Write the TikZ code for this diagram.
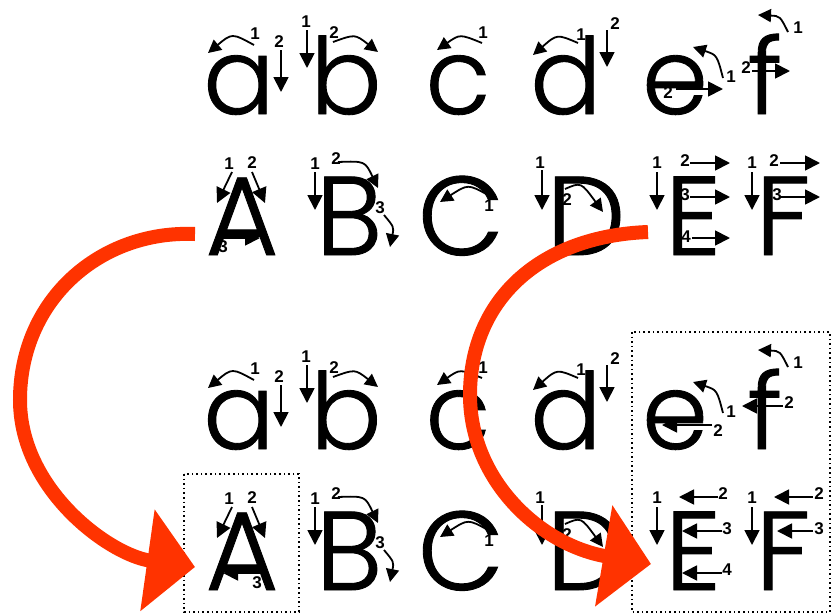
\documentclass[tikz,border=0pt]{standalone}
\usepackage{fontspec}
\setmainfont{Liberation Sans}
\newfontfamily\letterfont{Poppins}[UprightFont=* Light, FakeBold=0.8]
\usetikzlibrary{arrows.meta}
\definecolor{redarr}{RGB}{255,51,0}
\tikzset{
  lc/.style={font=\letterfont\fontsize{106}{106}\selectfont, inner sep=0pt, anchor=base},
  uc/.style={font=\letterfont\fontsize{112}{112}\selectfont, inner sep=0pt, anchor=base},
  num/.style={font=\bfseries\fontsize{17}{17}\selectfont, inner sep=0pt},
  sa/.style={line width=1.8pt, -{Triangle[length=15pt,width=15pt]}},
  ca/.style={line width=1.8pt, -{Triangle[length=13pt,width=13pt]}},
  bigarrow/.style={line width=14pt, draw=redarr, -{Triangle[length=48pt,width=100pt]}},
  dotbox/.style={line width=1.6pt, dash pattern=on 1.6pt off 3pt},
}
\newcommand\commonpart{%
  \node[lc] (a) at (239,114) {a};
  \node[lc] (b) at (346,114) {b};
  \node[lc] (c) at (458,114) {c};
  \node[lc] (d) at (566,114) {d};
  \node[lc] (e) at (675,114) {e};
  \node[lc] (f) at (765,114) {f};
  \node[uc] (A) at (242,255) {A};
  \node[uc] (B) at (349,255) {B};
  \node[uc] (C) at (461,255) {C};
  \node[uc] (D) at (586,255) {D};
  \node[uc] (E) at (693,255) {E};
  \node[uc] (F) at (783,255) {F};
  % curved arrows
  \draw[ca] (254,45) .. controls (232,33) .. (208,53);
  \node[num] (la1) at (255,34) {1};
  \draw[ca] (333,42) .. controls (355,34) .. (378,52);
  \node[num] (lb2) at (334,33) {2};
  \draw[ca] (482,43) .. controls (460,34) .. (437,50);
  \node[num] (lc1) at (483,33) {1};
  \draw[ca] (578,43) .. controls (557,34) .. (533,55);
  \node[num] (ld1) at (581,35) {1};
  \draw[ca] (723,78) .. controls (717,55) .. (693,47);
  \node[num] (le1) at (731,77) {1};
  \draw[ca] (788,32) .. controls (780,16) .. (758,15);
  \node[num] (lf1) at (798,28) {1};
  \draw[ca] (338,162) .. controls (365,161) .. (378,188);
  \node[num] (lB2) at (336,159) {2};
  \draw[ca] (384,215) .. controls (394,227) .. (390,247);
  \node[num] (lB3) at (380,208) {3};
  \draw[ca] (488,195) .. controls (468,184) .. (440,202);
  \node[num] (lC1) at (489,206) {1};
  \draw[ca] (565,189) .. controls (581,182) .. (603,212);
  \node[num] (lD2) at (567,200) {2};
  % straight arrows
  \draw[sa] (281,50) -- (281,92);
  \node[num] (la2) at (279,42) {2};
  \draw[sa] (307,30) -- (307,68);
  \node[num] (lb1) at (306,22) {1};
  \draw[sa] (607,30) -- (607,67);
  \node[num] (ld2) at (615,24) {2};
  \draw[sa] (232,172) -- (217,203);
  \node[num] (lA1) at (229,164) {1};
  \draw[sa] (252,172) -- (265,203);
  \node[num] (lA2) at (252,163) {2};
  \draw[sa] (315,172) -- (315,210);
  \node[num] (lB1) at (315,164) {1};
  \draw[sa] (542,170) -- (542,210);
  \node[num] (lD1) at (540,163) {1};
  \draw[sa] (657,172) -- (657,210);
  \node[num] (lE1) at (657,163) {1};
  \draw[sa] (752,172) -- (752,210);
  \node[num] (lF1) at (752,163) {1};
}
\begin{document}
\begin{tikzpicture}[x=1pt,y=-1pt]
\useasboundingbox (0,0) rectangle (833,614);
\fill[white] (0,0) rectangle (833,614);
% top block
\begin{scope}[name prefix=t-]
  \commonpart
  \draw[sa] (676,89) -- (723,89);
  \node[num] (le2) at (668,93) {2};
  \draw[sa] (752,71) -- (790,71);
  \node[num] (lf2) at (746,68) {2};
  \draw[sa] (222,238) -- (260,238);
  \node[num] (lA3) at (223,247) {3};
  \draw[sa] (690,163) -- (730,163);
  \node[num] (lE2) at (685,161) {2};
  \draw[sa] (690,197) -- (730,197);
  \node[num] (lE3) at (685,195) {3};
  \draw[sa] (692,238) -- (730,238);
  \node[num] (lE4) at (686,237) {4};
  \draw[sa] (780,163) -- (820,163);
  \node[num] (lF2) at (774,161) {2};
  \draw[sa] (780,197) -- (820,197);
  \node[num] (lF3) at (777,195) {3};
\end{scope}
% bottom block
\begin{scope}[name prefix=b-, shift={(0,335)}]
  \commonpart
\end{scope}
\begin{scope}[name prefix=b-]
  \draw[sa] (712,425) -- (662,425);
  \node[num] (le2) at (718,431) {2};
  \draw[sa] (783,406) -- (742,406);
  \node[num] (lf2) at (789,403) {2};
  \draw[sa] (262,573) -- (223,573);
  \node[num] (lA3) at (257,583) {3};
  \draw[sa] (718,497) -- (679,497);
  \node[num] (lE2) at (723,494) {2};
  \draw[sa] (722,531) -- (682,531);
  \node[num] (lE3) at (727,529) {3};
  \draw[sa] (722,573) -- (682,573);
  \node[num] (lE4) at (727,570) {4};
  \draw[sa] (813,497) -- (774,497);
  \node[num] (lF2) at (819,494) {2};
  \draw[sa] (813,531) -- (777,531);
  \node[num] (lF3) at (819,529) {3};
\end{scope}
% dotted boxes
\draw[dotbox] (184,474) rectangle (299,612);
\draw[dotbox] (632,332) rectangle (830,612);
% red arrows
\coordinate (r1s) at (195,234);
\coordinate (r1m) at (20,400);
\coordinate (r1e) at (195,567);
\draw[bigarrow] (r1s) .. controls (100,230) and (20,300) .. (r1m)
  .. controls (20,490) and (110,555) .. (r1e);
\coordinate (r2s) at (648,232);
\coordinate (r2m) at (470,395);
\coordinate (r2e) at (651,564);
\draw[bigarrow] (r2s) .. controls (540,236) and (470,300) .. (r2m)
  .. controls (470,480) and (540,545) .. (r2e);
\end{tikzpicture}
\end{document}
